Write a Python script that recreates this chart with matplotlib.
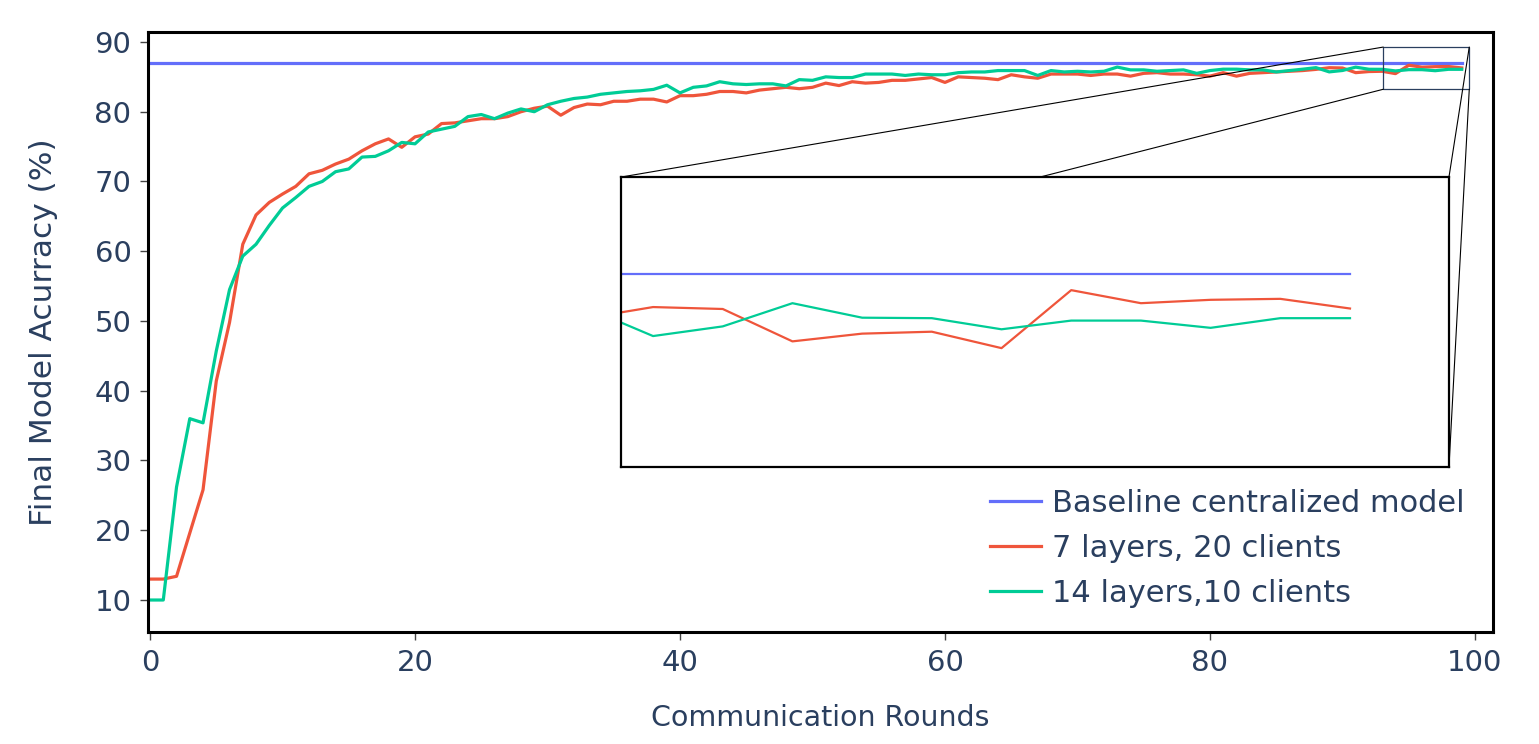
import numpy as np
import matplotlib
matplotlib.use("Agg")
import matplotlib.pyplot as plt
from matplotlib.patches import Rectangle, ConnectionPatch

# communication rounds 0..99
rounds = np.arange(100)

baseline_acc = 87.0

acc_7_layers = [
    13.0, 13.0, 13.4, 19.6, 25.8, 41.4, 49.8, 61.0, 65.2, 67.0,
    68.2, 69.3, 71.1, 71.6, 72.5, 73.2, 74.4, 75.4, 76.1, 74.9,
    76.4, 76.8, 78.3, 78.4, 78.7, 79.0, 79.0, 79.3, 80.0, 80.5,
    80.8, 79.5, 80.6, 81.1, 81.0, 81.5, 81.5, 81.8, 81.8, 81.4,
    82.3, 82.3, 82.5, 82.9, 82.9, 82.7, 83.1, 83.3, 83.5, 83.3,
    83.5, 84.1, 83.75, 84.3, 84.1, 84.2, 84.5, 84.5, 84.7, 84.9,
    84.2, 85.0, 84.9, 84.8, 84.6, 85.3, 85.0, 84.8, 85.4, 85.4,
    85.4, 85.2, 85.4, 85.4, 85.1, 85.5, 85.6, 85.4, 85.4, 85.3,
    85.1, 85.6, 85.1, 85.5, 85.6, 85.7, 85.8, 85.9, 86.07, 86.31,
    86.27, 85.60, 85.76, 85.80, 85.46, 86.66, 86.39, 86.46, 86.48, 86.28,
]

acc_14_layers = [
    10.0, 10.0, 26.2, 36.0, 35.4, 45.7, 54.5, 59.3, 61.0, 63.7,
    66.2, 67.7, 69.3, 70.0, 71.4, 71.8, 73.5, 73.6, 74.4, 75.6,
    75.4, 77.1, 77.5, 77.9, 79.3, 79.6, 79.0, 79.8, 80.4, 80.0,
    81.0, 81.5, 81.9, 82.1, 82.5, 82.7, 82.9, 83.0, 83.2, 83.8,
    82.7, 83.5, 83.7, 84.3, 84.0, 83.9, 84.0, 84.0, 83.7, 84.6,
    84.5, 85.0, 84.9, 84.9, 85.4, 85.4, 85.4, 85.2, 85.4, 85.3,
    85.3, 85.6, 85.7, 85.7, 85.9, 85.9, 85.9, 85.2, 85.9, 85.7,
    85.8, 85.7, 85.8, 86.4, 86.0, 86.0, 85.8, 85.9, 86.0, 85.5,
    85.9, 86.1, 86.1, 86.0, 86.0, 85.7, 85.9, 86.1, 86.32, 85.71,
    85.91, 86.39, 86.09, 86.08, 85.85, 86.03, 86.03, 85.88, 86.08, 86.08,
]

labels = ["Baseline centralized model", "7 layers, 20 clients", "14 layers,10 clients"]
colors = ["#636efa", "#ef553b", "#00cc96"]

txt = "#2a3f5f"
plt.rcParams["font.family"] = ["DejaVu Sans"]

fig = plt.figure(figsize=(15.39, 7.44), dpi=100)
ax = fig.add_axes([0.0962, 0.1505, 0.8739, 0.8065])

base = [baseline_acc] * len(rounds)
ax.plot(rounds, base, color=colors[0], lw=2.3, label=labels[0])
ax.plot(rounds, acc_7_layers, color=colors[1], lw=2.3, label=labels[1])
ax.plot(rounds, acc_14_layers, color=colors[2], lw=2.3, label=labels[2])

ax.set_xlim(-0.15, 101.36)
ax.set_ylim(5.41, 91.43)
ax.set_xticks(range(0, 101, 20))
ax.set_yticks(range(10, 91, 10))
ax.tick_params(labelsize=21, labelcolor=txt, color="#444444", length=6, width=1, pad=6)
for s in ax.spines.values():
    s.set_linewidth(2.2)
    s.set_color("black")
ax.set_xlabel("Communication Rounds", fontsize=20.5, color=txt, labelpad=20)
ax.set_ylabel("Final Model Acurracy (%)", fontsize=22.5, color=txt, labelpad=26)

leg = ax.legend(loc="lower right", bbox_to_anchor=(0.979, 0.04), frameon=False,
                fontsize=22, handlelength=1.67, handletextpad=0.36,
                labelspacing=0.53, borderpad=0, borderaxespad=0)
for t in leg.get_texts():
    t.set_color(txt)

# zoomed region marked on main axes
zx0, zx1 = 93.08, 99.57
zy0, zy1 = 83.22, 89.27
ax.add_patch(Rectangle((zx0, zy0), zx1 - zx0, zy1 - zy0, fill=False,
                       edgecolor=txt, lw=0.9, zorder=5))

# inset
ins = fig.add_axes([0.4035, 0.3723, 0.538, 0.3897])
ins.plot(rounds, base, color=colors[0], lw=1.6)
ins.plot(rounds, acc_7_layers, color=colors[1], lw=1.6)
ins.plot(rounds, acc_14_layers, color=colors[2], lw=1.6)
ins.set_xlim(88.54, 100.42)
ins.set_ylim(83, 89)
ins.set_xticks([])
ins.set_yticks([])
for s in ins.spines.values():
    s.set_linewidth(1.6)
    s.set_color("black")

# connector lines
links = [((zx0, zy1), (0.0, 1.0)),
         ((zx0, zy0), (0.506, 1.0)),
         ((zx1, zy1), (1.0, 1.0)),
         ((zx1, zy0), (1.0, 0.0))]
for pa, pb in links:
    con = ConnectionPatch(xyA=pa, coordsA=ax.transData, xyB=pb, coordsB=ins.transAxes,
                          color="black", lw=0.8, zorder=6)
    fig.add_artist(con)

fig.savefig("out.png", dpi=100)
